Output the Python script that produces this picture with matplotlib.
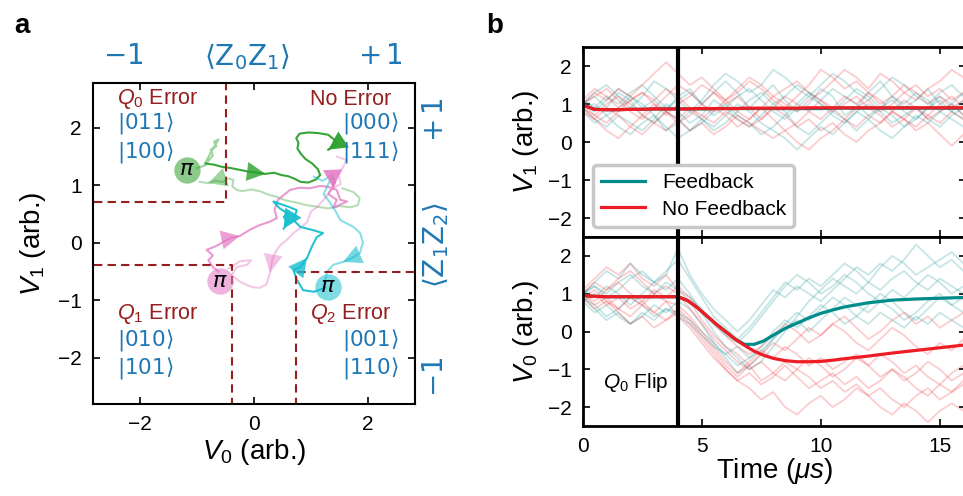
import numpy as np
import matplotlib
matplotlib.use('Agg')
import matplotlib.pyplot as plt

plt.rcParams['font.family'] = ['Liberation Sans', 'DejaVu Sans']
plt.rcParams['mathtext.fontset'] = 'custom'
plt.rcParams['mathtext.rm'] = 'Liberation Sans'
plt.rcParams['mathtext.it'] = 'Liberation Sans:italic'
plt.rcParams['mathtext.bf'] = 'Liberation Sans:bold'

# ---------------- panel a: IQ trajectories (V0, V1) ----------------
# light = before the feedback pulse, dark = after
green_light_v0 = [1.55, 1.75, 1.85, 1.82, 1.70, 1.50, 1.30, 1.10, 0.90, 0.75, 0.55, 0.40,
                  0.25, 0.10, -0.05, -0.20, -0.30, -0.38, -0.36, -0.45, -0.55, -0.68, -0.80, -0.95]
green_light_v1 = [0.95, 0.88, 0.78, 0.66, 0.62, 0.64, 0.60, 0.63, 0.66, 0.70, 0.74, 0.80,
                  0.84, 0.90, 0.93, 0.90, 0.92, 0.98, 1.10, 1.12, 1.06, 1.08, 1.04, 1.06]
green_wiggle_v0 = [-1.0, -0.85, -0.78, -0.72, -0.76, -0.66, -0.70, -0.62, -0.68, -0.75, -0.85]
green_wiggle_v1 = [1.30, 1.35, 1.45, 1.52, 1.62, 1.68, 1.76, 1.80, 1.70, 1.58, 1.40]
green_dark_v0 = [-0.85, -0.70, -0.55, -0.40, -0.25, -0.10, 0.05, 0.20, 0.35, 0.48, 0.60, 0.70,
                 0.82, 0.95, 1.08, 1.16, 1.12, 1.02, 0.90, 0.82, 0.76, 0.78, 0.74, 0.80,
                 0.95, 1.12, 1.30, 1.40, 1.45, 1.30]
green_dark_v1 = [1.38, 1.36, 1.32, 1.30, 1.27, 1.24, 1.22, 1.20, 1.22, 1.18, 1.16, 1.12,
                 1.06, 1.05, 1.10, 1.18, 1.28, 1.38, 1.46, 1.55, 1.64, 1.74, 1.82, 1.90,
                 1.92, 1.91, 1.88, 1.80, 1.72, 1.62]

pink_light_v0 = [1.45, 1.62, 1.55, 1.48, 1.52, 1.38, 1.30, 1.22, 1.10, 1.00, 0.93, 0.80,
                 0.69, 0.57, 0.45, 0.40, 0.33, 0.31, 0.28, 0.22, 0.10, -0.02, -0.15, -0.25,
                 -0.39, -0.30, -0.12, -0.05, -0.25, -0.45]
pink_light_v1 = [1.50, 1.44, 1.30, 1.18, 1.02, 0.95, 0.85, 0.75, 0.62, 0.55, 0.36, 0.25,
                 0.17, 0.05, -0.05, -0.12, -0.25, -0.35, -0.52, -0.72, -0.78, -0.77, -0.72, -0.67,
                 -0.56, -0.42, -0.38, -0.30, -0.32, -0.45]
pink_dark_v0 = [-0.62, -0.72, -0.80, -0.72, -0.83, -0.70, -0.60, -0.50, -0.39, -0.25, -0.07, 0.10,
                0.28, 0.40, 0.36, 0.42, 0.63, 0.80, 0.98, 1.15, 1.28, 1.45, 1.51, 1.63,
                1.39, 1.45, 1.30, 1.42, 1.38, 1.39]
pink_dark_v1 = [-0.50, -0.42, -0.30, -0.22, -0.12, -0.07, -0.02, 0.04, 0.09, 0.12, 0.23, 0.31,
                0.37, 0.43, 0.58, 0.75, 0.92, 0.96, 0.95, 0.99, 0.98, 0.92, 0.75, 0.72,
                0.61, 0.75, 0.85, 1.05, 1.15, 0.95]

cyan_light_v0 = [1.05, 1.20, 1.38, 1.30, 1.22, 1.33, 1.42, 1.51, 1.62, 1.74, 1.86, 1.91,
                 1.88, 1.86, 1.72, 1.56, 1.39, 1.28, 1.25]
cyan_light_v1 = [1.15, 1.08, 1.18, 1.02, 0.85, 0.70, 0.57, 0.40, 0.34, 0.28, 0.17, 0.00,
                 -0.08, -0.17, -0.26, -0.33, -0.38, -0.50, -0.64]
cyan_dark_v0 = [1.25, 1.05, 0.86, 0.80, 0.75, 0.69, 0.81, 0.86, 0.93, 1.02, 1.10, 1.21,
                1.04, 0.81, 0.69, 0.75, 0.60, 0.51, 0.34, 0.45, 0.58, 0.52, 0.60, 0.52]
cyan_dark_v1 = [-0.78, -0.85, -0.82, -0.72, -0.64, -0.47, -0.42, -0.35, -0.26, -0.05, 0.10, 0.17,
                0.22, 0.28, 0.40, 0.57, 0.63, 0.66, 0.72, 0.60, 0.52, 0.45, 0.38, 0.25]

# where the pi pulse was applied
pi_v0 = [-1.18, -0.60, 1.30]
pi_v1 = [1.27, -0.67, -0.76]

# corners of the dashed error regions
q0_corner = (-0.49, 0.72)
q1_corner = (-0.39, -0.39)
q2_corner = (0.73, -0.51)

# ---------------- panel b: time traces ----------------
t_trace = [0, 0.5, 1, 1.5, 2, 2.5, 3, 3.5, 4, 4.5, 5, 5.5, 6, 6.5, 7, 7.5, 8, 8.5,
           9, 9.5, 10, 10.5, 11, 11.5, 12, 12.5, 13, 13.5, 14, 14.5, 15, 15.5, 16]

v1_fb = [
    [1.0, 1.2, 0.9, 1.3, 1.1, 0.7, 0.5, 0.8, 1.2, 1.4, 1.0, 1.3, 1.6, 1.3, 0.9, 1.2, 1.5, 1.1, 0.8, 1.0, 1.4, 1.2, 0.7, 0.9, 1.3, 1.6, 1.2, 0.9, 1.1, 1.4, 1.0, 0.8, 1.1],
    [0.9, 0.6, 0.4, 0.7, 0.5, 0.3, 0.6, 1.0, 0.8, 0.5, 0.7, 1.1, 0.9, 0.6, 0.4, 0.7, 1.0, 0.8, 0.4, 0.2, 0.5, 0.8, 0.6, 0.3, 0.6, 0.9, 0.7, 0.4, 0.6, 0.9, 1.1, 0.8, 0.6],
    [1.0, 1.3, 1.5, 1.2, 0.9, 1.2, 1.6, 1.4, 1.1, 0.8, 1.1, 1.5, 1.8, 1.6, 1.3, 1.5, 1.9, 1.7, 1.4, 1.2, 1.5, 1.8, 1.6, 1.3, 1.1, 1.4, 1.7, 1.5, 1.2, 1.0, 1.3, 1.5, 1.2],
    [0.8, 0.5, 0.7, 0.4, 0.2, 0.5, 0.7, 0.4, 0.1, 0.3, 0.6, 0.4, 0.7, 1.0, 0.8, 0.5, 0.3, 0.1, -0.2, 0.1, 0.4, 0.2, 0.5, 0.8, 0.6, 0.3, 0.1, 0.4, 0.7, 0.5, 0.8, 0.6, 0.4],
    [1.1, 0.9, 1.2, 1.0, 1.3, 1.5, 1.2, 0.9, 1.1, 1.3, 1.0, 0.7, 0.9, 1.2, 1.4, 1.1, 0.8, 0.6, 0.9, 1.2, 1.0, 0.7, 0.5, 0.8, 1.0, 0.8, 0.5, 0.7, 0.9, 0.6, 0.4, 0.7, 0.9],
    [0.9, 1.0, 0.7, 0.9, 1.2, 1.0, 0.7, 0.3, 0.5, 0.8, 0.6, 0.3, 0.5, 0.8, 1.1, 1.3, 1.0, 1.2, 1.5, 1.3, 1.0, 0.8, 1.1, 1.4, 1.2, 0.9, 1.1, 0.8, 0.6, 0.9, 1.2, 1.0, 1.3],
    [1.0, 0.8, 1.1, 1.4, 1.2, 0.9, 1.1, 0.8, 0.6, 0.3, 0.5, 0.8, 1.0, 0.7, 0.5, 0.2, 0.4, 0.7, 1.0, 1.3, 1.1, 1.4, 1.2, 1.0, 0.7, 0.9, 1.2, 1.0, 1.3, 1.1, 0.8, 1.0, 0.7],
]
v1_nofb = [
    [1.0, 1.3, 1.1, 1.4, 1.2, 1.5, 1.8, 2.1, 1.8, 1.5, 1.7, 1.4, 1.1, 1.3, 1.6, 1.4, 1.1, 0.9, 1.2, 1.5, 1.9, 1.7, 1.4, 1.6, 1.3, 1.0, 1.2, 1.5, 1.3, 1.0, 1.2, 0.9, 1.1],
    [0.9, 0.6, 0.3, 0.1, 0.4, 0.7, 0.5, 0.8, 0.6, 0.3, 0.5, 0.2, 0.4, 0.7, 0.5, 0.3, 0.1, 0.3, 0.0, -0.2, 0.1, 0.3, 0.6, 0.4, 0.7, 0.5, 0.8, 1.1, 0.9, 0.6, 0.8, 1.0, 0.7],
    [1.0, 1.2, 1.4, 1.1, 0.8, 0.6, 0.9, 1.2, 1.5, 1.3, 1.0, 0.8, 1.1, 1.4, 1.7, 1.5, 1.2, 1.0, 0.8, 1.1, 1.3, 1.6, 1.9, 1.7, 1.4, 1.8, 1.6, 1.3, 1.1, 1.4, 1.6, 1.9, 1.7],
    [0.8, 0.6, 0.9, 0.7, 0.4, 0.2, 0.5, 0.3, 0.6, 0.9, 0.7, 0.5, 0.8, 0.6, 0.4, 0.6, 0.9, 0.7, 0.4, 0.6, 0.3, 0.5, 0.2, 0.0, 0.3, 0.5, 0.8, 0.6, 0.3, 0.5, 0.2, -0.1, 0.2],
    [1.1, 1.4, 1.2, 0.9, 1.1, 1.3, 1.0, 0.7, 1.0, 1.2, 1.5, 1.3, 1.0, 1.2, 0.9, 0.6, 0.9, 1.2, 1.0, 0.8, 1.1, 0.9, 0.6, 0.9, 1.1, 0.8, 1.0, 1.3, 1.5, 1.2, 1.4, 1.1, 1.3],
    [0.9, 0.7, 1.0, 1.2, 1.0, 0.7, 1.0, 0.8, 0.5, 0.7, 1.0, 1.3, 1.1, 0.8, 0.6, 0.9, 1.2, 1.4, 1.6, 1.3, 1.1, 0.8, 1.0, 1.2, 0.9, 0.7, 0.4, 0.6, 0.9, 0.7, 0.5, 0.8, 0.6],
    [1.0, 0.7, 0.5, 0.8, 1.1, 1.3, 1.1, 1.4, 1.2, 0.9, 0.6, 0.9, 0.7, 0.4, 0.6, 0.9, 0.6, 0.3, 0.5, 0.8, 0.6, 0.9, 1.2, 1.0, 1.3, 1.1, 0.8, 0.6, 0.4, 0.7, 1.0, 1.2, 0.9],
]
v0_fb = [
    [1.0, 1.3, 1.6, 1.4, 1.8, 1.5, 1.3, 1.6, 1.9, 1.4, 0.9, 0.4, 0.1, -0.2, 0.1, 0.5, 0.9, 1.3, 1.1, 1.4, 1.2, 1.5, 1.8, 1.6, 1.3, 1.7, 2.0, 1.8, 1.5, 1.7, 1.9, 2.1, 1.8],
    [0.9, 0.6, 0.3, 0.5, 0.2, 0.4, 0.7, 0.5, 0.8, 0.6, 0.2, -0.3, -0.6, -0.9, -0.7, -0.4, 0.0, 0.3, 0.1, 0.4, 0.7, 0.5, 0.2, 0.4, 0.7, 1.0, 0.8, 0.5, 0.3, 0.6, 0.9, 0.7, 0.5],
    [1.1, 0.9, 1.2, 1.0, 0.7, 1.0, 1.3, 1.1, 1.4, 1.0, 0.5, 0.0, -0.4, -0.7, -1.0, -0.8, -0.4, 0.0, 0.4, 0.8, 1.1, 1.4, 1.2, 1.0, 1.3, 1.1, 1.4, 1.6, 1.3, 1.1, 1.4, 1.2, 1.0],
    [0.8, 0.5, 0.7, 0.4, 0.2, 0.5, 0.3, 0.6, 0.4, 0.2, -0.1, -0.4, -0.6, -0.4, -0.7, -0.5, -0.2, 0.2, 0.5, 0.3, 0.6, 0.9, 0.7, 0.4, 0.2, 0.5, 0.3, 0.1, 0.4, 0.2, 0.5, 0.3, 0.1],
    [1.0, 1.2, 1.0, 1.3, 1.5, 1.2, 1.0, 1.3, 1.1, 0.9, 0.6, 0.2, -0.1, -0.3, 0.0, 0.4, 0.8, 1.2, 1.5, 1.3, 1.0, 1.2, 1.5, 1.3, 1.0, 0.8, 1.1, 0.9, 1.2, 1.5, 1.3, 1.0, 1.2],
    [0.9, 0.7, 0.4, 0.6, 0.9, 0.7, 0.4, 0.6, 0.5, 0.3, 0.0, -0.3, -0.7, -1.1, -0.9, -0.6, -0.2, 0.1, 0.3, 0.0, 0.3, 0.6, 0.9, 0.7, 0.5, 0.8, 0.6, 0.3, 0.5, 0.8, 1.0, 0.7, 0.9],
    [1.0, 1.2, 0.9, 1.1, 1.4, 1.6, 1.3, 1.5, 2.2, 1.5, 1.0, 0.6, 0.3, 0.0, 0.3, 0.7, 1.1, 0.9, 1.2, 1.0, 0.8, 1.1, 1.4, 1.7, 1.5, 1.8, 1.6, 1.9, 2.3, 2.0, 1.7, 1.9, 1.6],
]
v0_nofb = [
    [1.0, 1.3, 1.1, 1.4, 1.6, 1.3, 1.0, 1.2, 1.0, 0.6, 0.2, -0.2, -0.5, -0.8, -1.0, -0.8, -1.1, -1.3, -1.0, -1.2, -1.5, -1.3, -1.6, -1.4, -1.7, -1.5, -1.8, -2.0, -1.7, -1.5, -1.8, -1.6, -1.4],
    [0.9, 0.6, 0.8, 0.5, 0.2, 0.4, 0.1, 0.3, 0.6, 0.3, -0.1, -0.5, -0.9, -1.2, -0.9, -0.6, -0.3, -0.5, -0.2, 0.1, -0.1, 0.2, 0.4, 0.1, -0.2, 0.0, 0.3, 0.5, 0.2, 0.4, 0.1, 0.3, 0.5],
    [1.1, 1.4, 1.7, 1.5, 1.8, 1.4, 1.2, 1.5, 1.1, 0.8, 0.3, -0.1, -0.4, -0.6, -0.9, -1.3, -1.1, -0.8, -1.0, -0.7, -0.9, -1.2, -1.0, -0.7, -0.9, -0.6, -0.8, -1.1, -0.9, -1.2, -1.4, -1.1, -0.9],
    [0.8, 1.0, 0.7, 0.9, 0.6, 0.8, 0.5, 0.3, 0.5, 0.2, -0.2, -0.6, -1.0, -1.3, -1.5, -1.8, -1.6, -2.0, -2.2, -1.9, -1.7, -2.0, -1.8, -1.5, -1.7, -2.0, -2.2, -1.9, -2.1, -2.4, -2.1, -1.9, -2.1],
    [1.0, 0.8, 1.1, 1.3, 1.0, 0.8, 1.1, 0.9, 1.2, 0.9, 0.5, 0.2, -0.1, -0.4, -0.6, -0.4, -0.1, 0.2, 0.0, -0.3, -0.1, 0.2, 0.0, -0.3, -0.5, -0.2, 0.1, -0.1, -0.4, -0.6, -0.3, -0.5, -0.2],
    [0.9, 1.1, 0.8, 0.6, 0.9, 0.7, 1.0, 0.8, 0.4, 0.1, -0.3, -0.7, -1.0, -1.3, -1.1, -1.4, -1.2, -0.9, -1.2, -1.5, -1.3, -1.1, -1.4, -1.2, -1.5, -1.3, -1.0, -1.2, -1.5, -1.7, -1.4, -1.6, -1.3],
    [1.0, 0.7, 0.9, 0.6, 0.4, 0.7, 0.5, 0.8, 0.7, 0.4, 0.0, -0.4, -0.8, -1.1, -0.8, -0.5, -0.7, -0.4, -0.6, -0.9, -0.7, -1.0, -0.8, -0.6, -0.9, -1.2, -1.0, -1.3, -1.1, -0.8, -1.0, -1.3, -1.1],
]

t_mean = [0, 0.5, 1, 1.5, 2, 2.5, 3, 3.5, 4, 4.4, 4.8, 5.2, 5.6, 6.0, 6.4, 6.8, 7.2, 7.6, 8.0,
          8.5, 9, 9.5, 10, 10.5, 11, 12, 13, 14, 15, 16]
v1_mean_fb = [0.97, 0.86, 0.85, 0.85, 0.86, 0.86, 0.87, 0.87, 0.87, 0.87, 0.87, 0.87, 0.88, 0.88,
              0.88, 0.88, 0.88, 0.88, 0.88, 0.88, 0.88, 0.88, 0.88, 0.89, 0.89, 0.89, 0.89, 0.89, 0.89, 0.89]
v1_mean_nofb = [0.97, 0.86, 0.85, 0.85, 0.86, 0.86, 0.87, 0.87, 0.87, 0.87, 0.88, 0.88, 0.88, 0.88,
                0.88, 0.89, 0.89, 0.89, 0.89, 0.89, 0.89, 0.90, 0.90, 0.90, 0.90, 0.90, 0.90, 0.90, 0.90, 0.90]
v0_mean_fb = [0.95, 0.93, 0.92, 0.92, 0.92, 0.92, 0.92, 0.92, 0.92, 0.82, 0.64, 0.42, 0.20, 0.00,
              -0.20, -0.34, -0.34, -0.25, -0.10, 0.08, 0.22, 0.36, 0.48, 0.57, 0.65, 0.76, 0.83, 0.86, 0.88, 0.90]
v0_mean_nofb = [0.95, 0.93, 0.92, 0.92, 0.92, 0.92, 0.92, 0.92, 0.92, 0.82, 0.64, 0.42, 0.20, 0.00,
                -0.20, -0.37, -0.52, -0.63, -0.71, -0.77, -0.80, -0.80, -0.79, -0.76, -0.72, -0.65, -0.57, -0.50, -0.43, -0.36]

flip_time = 4

GREEN = '#2ca02c'
PINK = '#e377c2'
CYAN = '#17becf'
DARKRED = '#961e1e'
BLUE = '#1f77b4'
TEAL = '#008b8b'
RED = '#ee1c25'

W, H = 963, 496
fig = plt.figure(figsize=(W / 100, H / 100), dpi=100)


def arrow(ax, xs, ys, i, color, alpha):
    ax.annotate('', xy=(xs[i + 1], ys[i + 1]), xytext=(xs[i], ys[i]),
                arrowprops=dict(arrowstyle='-|>,head_length=0.7,head_width=0.36',
                                color=color, alpha=alpha, lw=0.01,
                                shrinkA=0, shrinkB=0, mutation_scale=19))


# ---------------- panel a ----------------
ax = fig.add_axes([93 / W, 1 - 404 / H, 322 / W, 321 / H])

ax.plot(green_light_v0, green_light_v1, color=GREEN, alpha=0.35, lw=1.5)
ax.plot(green_wiggle_v0, green_wiggle_v1, color=GREEN, alpha=0.45, lw=1.5)
ax.plot(green_dark_v0, green_dark_v1, color=GREEN, alpha=0.95, lw=1.5)
ax.plot(pink_light_v0, pink_light_v1, color=PINK, alpha=0.4, lw=1.5)
ax.plot(pink_dark_v0, pink_dark_v1, color=PINK, alpha=0.75, lw=1.5)
ax.plot(cyan_light_v0, cyan_light_v1, color=CYAN, alpha=0.5, lw=1.5)
ax.plot(cyan_dark_v0, cyan_dark_v1, color=CYAN, alpha=0.95, lw=1.5)

arrow(ax, green_light_v0, green_light_v1, len(green_light_v0) - 3, GREEN, 0.45)
arrow(ax, green_dark_v0, green_dark_v1, 6, GREEN, 0.8)
arrow(ax, green_dark_v0, green_dark_v1, len(green_dark_v0) - 2, GREEN, 0.95)
arrow(ax, pink_light_v0, pink_light_v1, 17, PINK, 0.45)
arrow(ax, pink_dark_v0, pink_dark_v1, 8, PINK, 0.7)
arrow(ax, pink_dark_v0, pink_dark_v1, len(pink_dark_v0) - 2, PINK, 0.85)
arrow(ax, cyan_light_v0, cyan_light_v1, 14, CYAN, 0.6)
arrow(ax, cyan_dark_v0, cyan_dark_v1, 7, CYAN, 0.8)
arrow(ax, cyan_dark_v0, cyan_dark_v1, len(cyan_dark_v0) - 2, CYAN, 0.95)

for x, y, c in zip(pi_v0, pi_v1, [GREEN, PINK, CYAN]):
    ax.scatter([x], [y], s=360, color=c, alpha=0.55, lw=0, zorder=4)
    ax.text(x, y, r'$\pi$', fontsize=16, ha='center', va='center', zorder=5,
            math_fontfamily='dejavusans')

dash = dict(color=DARKRED, lw=1.5, ls=(0, (4, 2.5)))
ax.plot([-2.8, q0_corner[0], q0_corner[0]], [q0_corner[1], q0_corner[1], 2.8], **dash)
ax.plot([-2.8, q1_corner[0], q1_corner[0]], [q1_corner[1], q1_corner[1], -2.8], **dash)
ax.plot([2.8, q2_corner[0], q2_corner[0]], [q2_corner[1], q2_corner[1], -2.8], **dash)

ax.set_xlim(-2.82, 2.82)
ax.set_ylim(-2.8, 2.78)
ax.set_xticks([-2, 0, 2])
ax.set_yticks([-2, -1, 0, 1, 2])
ax.tick_params(direction='in', top=True, right=True, length=5, width=1.2,
               labelsize=15)
ax.tick_params(axis='x', pad=8)
ax.tick_params(axis='y', pad=8)
for s in ax.spines.values():
    s.set_linewidth(1.5)
ax.set_xlabel('$V_0$ (arb.)', fontsize=20, labelpad=2)
ax.set_ylabel('$V_1$ (arb.)', fontsize=20, labelpad=7)

efs = 15.5
kfs = 15.5
ax.text(-2.40, 2.50, '$Q_0$ Error', color=DARKRED, fontsize=efs, ha='left', va='center')
ax.text(-2.40, 2.09, r'$|011\rangle$', color=BLUE, fontsize=kfs, ha='left', va='center',
        math_fontfamily='dejavusans')
ax.text(-2.40, 1.58, r'$|100\rangle$', color=BLUE, fontsize=kfs, ha='left', va='center',
        math_fontfamily='dejavusans')
ax.text(2.40, 2.50, 'No Error', color=DARKRED, fontsize=efs, ha='right', va='center')
ax.text(2.53, 2.09, r'$|000\rangle$', color=BLUE, fontsize=kfs, ha='right', va='center',
        math_fontfamily='dejavusans')
ax.text(2.53, 1.58, r'$|111\rangle$', color=BLUE, fontsize=kfs, ha='right', va='center',
        math_fontfamily='dejavusans')
ax.text(-2.40, -1.23, '$Q_1$ Error', color=DARKRED, fontsize=efs, ha='left', va='center')
ax.text(-2.40, -1.69, r'$|010\rangle$', color=BLUE, fontsize=kfs, ha='left', va='center',
        math_fontfamily='dejavusans')
ax.text(-2.40, -2.17, r'$|101\rangle$', color=BLUE, fontsize=kfs, ha='left', va='center',
        math_fontfamily='dejavusans')
ax.text(2.40, -1.23, '$Q_2$ Error', color=DARKRED, fontsize=efs, ha='right', va='center')
ax.text(2.53, -1.69, r'$|001\rangle$', color=BLUE, fontsize=kfs, ha='right', va='center',
        math_fontfamily='dejavusans')
ax.text(2.53, -2.17, r'$|110\rangle$', color=BLUE, fontsize=kfs, ha='right', va='center',
        math_fontfamily='dejavusans')

# parity axes labels
pfs = 20
for txt, px in [(r'$-1$', 123), (r'$\langle \mathrm{Z}_0\mathrm{Z}_1\rangle$', 247), (r'$+\,1$', 380)]:
    fig.text(px / W, 1 - 57 / H, txt, fontsize=pfs, color=BLUE, ha='center', va='center',
             math_fontfamily='dejavusans')
for txt, py in [(r'$+\,1$', 120), (r'$\langle \mathrm{Z}_1\mathrm{Z}_2\rangle$', 245), (r'$-1$', 377)]:
    fig.text(436 / W, 1 - py / H, txt, fontsize=pfs, color=BLUE, ha='center', va='center',
             rotation=90, math_fontfamily='dejavusans')

# ---------------- panel b ----------------
left_b = 582.7 / W
width_b = (966 - 582.7) / W
axt = fig.add_axes([left_b, 1 - 237 / H, width_b, 190 / H])
axb = fig.add_axes([left_b, 1 - 426 / H, width_b, 189 / H], sharex=axt)

for a, fb, nofb, mfb, mnofb in [(axt, v1_fb, v1_nofb, v1_mean_fb, v1_mean_nofb),
                                (axb, v0_fb, v0_nofb, v0_mean_fb, v0_mean_nofb)]:
    for tr in fb:
        a.plot(t_trace, tr, color=TEAL, alpha=0.22, lw=1.3)
    for tr in nofb:
        a.plot(t_trace, tr, color=RED, alpha=0.22, lw=1.3)
    a.plot(t_mean, mfb, color=TEAL, lw=2.3, label='Feedback')
    a.plot(t_mean, mnofb, color=RED, lw=2.3, label='No Feedback')
    a.axvline(flip_time, color='k', lw=3)
    a.set_ylim(-2.5, 2.5)
    a.set_yticks([-2, -1, 0, 1, 2])
    a.tick_params(direction='in', top=True, right=True, length=5, width=1.2,
                  labelsize=15)
    a.tick_params(axis='x', pad=8)
    a.tick_params(axis='y', pad=8)
    for s in a.spines.values():
        s.set_linewidth(2)

axt.set_xlim(0, 16.1)
axt.set_xticks([0, 5, 10, 15])
axt.tick_params(labelbottom=False)
axt.set_ylabel('$V_1$ (arb.)', fontsize=20, labelpad=5)
axb.set_ylabel('$V_0$ (arb.)', fontsize=20, labelpad=5)
axb.set_xlabel(r'Time ($\mu s$)', fontsize=20, labelpad=0)

leg = axt.legend(loc='lower left', bbox_to_anchor=(0.027, 0.053), borderaxespad=0,
                 fontsize=15, handlelength=2.1, handletextpad=0.8, labelspacing=0.35,
                 fancybox=True, framealpha=1)
leg.get_frame().set_edgecolor('#c8c8c8')
leg.get_frame().set_linewidth(2.5)

axb.text(0.85, -1.36, '$Q_0$ Flip', fontsize=15, ha='left', va='center')

fig.text(14 / W, 1 - 33 / H, 'a', fontsize=20, fontweight='bold', va='baseline')
fig.text(486 / W, 1 - 33 / H, 'b', fontsize=20, fontweight='bold', va='baseline')

fig.savefig('out.png', dpi=100)
